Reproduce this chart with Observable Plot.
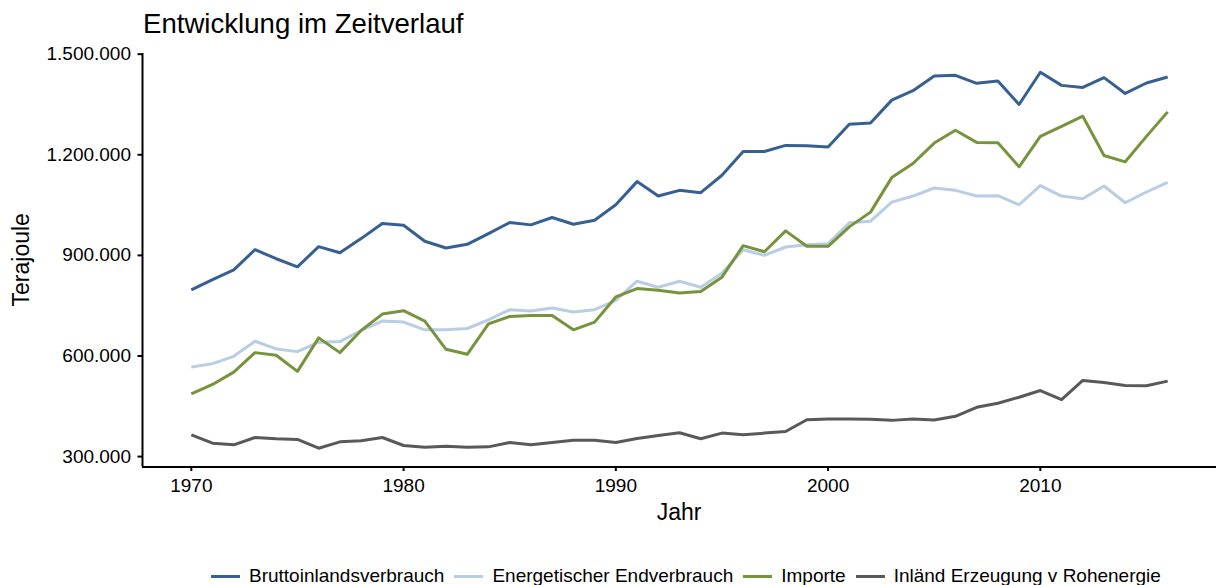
<!DOCTYPE html>
<html><head><meta charset="utf-8">
<script src="https://cdn.jsdelivr.net/npm/d3@7"></script>
<script src="https://cdn.jsdelivr.net/npm/@observablehq/plot@0.6"></script>
<style>
body{margin:0;background:#fff;overflow:hidden;font-family:"Liberation Sans",Arial,Helvetica,sans-serif;color:#000;}
#wrap{position:relative;width:1216px;height:585px;overflow:hidden;}
#chart{position:absolute;left:0;top:0;}
#title{position:absolute;left:143px;top:10px;font-size:27.6px;line-height:27.5px;white-space:nowrap;}
#legend{position:absolute;left:211px;top:567px;height:18px;display:flex;align-items:center;font-size:19px;line-height:18px;white-space:nowrap;}
.item{display:flex;align-items:center;margin-right:10px;}
.sw{width:29px;height:3px;margin-right:9px;}
</style></head><body>
<div id="wrap"><div id="chart"></div><div id="title">Entwicklung im Zeitverlauf</div><div id="legend"></div></div>
<script>
const years = [1970,1971,1972,1973,1974,1975,1976,1977,1978,1979,1980,1981,1982,1983,1984,1985,1986,1987,1988,1989,1990,1991,1992,1993,1994,1995,1996,1997,1998,1999,2000,2001,2002,2003,2004,2005,2006,2007,2008,2009,2010,2011,2012,2013,2014,2015,2016];
const seriesNames = ["Bruttoinlandsverbrauch","Energetischer Endverbrauch","Importe","Inländ Erzeugung v Rohenergie"];
const seriesColors = ["#376092","#B9CDE5","#77933C","#595959"];
const brutto = [797000,828000,857000,917000,890000,866000,926000,908000,950000,995000,990000,942000,922000,933000,965000,998000,991000,1013000,993000,1005000,1051000,1120000,1077000,1094000,1087000,1139000,1210000,1210000,1228000,1227000,1223000,1291000,1295000,1363000,1391000,1435000,1437000,1413000,1420000,1350000,1446000,1407000,1401000,1430000,1383000,1414000,1432000];
const endverbrauch = [567000,577000,599000,644000,621000,613000,641000,643000,676000,704000,701000,678000,678000,682000,708000,738000,734000,743000,731000,738000,766000,823000,805000,823000,805000,847000,917000,900000,925000,932000,935000,997000,1002000,1059000,1077000,1101000,1094000,1077000,1078000,1051000,1108000,1077000,1069000,1107000,1057000,1089000,1118000];
const importe = [487000,515000,552000,610000,602000,554000,654000,610000,676000,725000,735000,704000,620000,605000,696000,718000,721000,721000,678000,701000,776000,801000,796000,788000,792000,835000,929000,911000,973000,927000,927000,985000,1029000,1132000,1174000,1235000,1273000,1237000,1236000,1164000,1255000,1285000,1315000,1198000,1179000,1255000,1328000];
const inland = [365000,340000,335000,357000,353000,351000,325000,344000,347000,357000,333000,328000,331000,328000,329000,342000,335000,342000,349000,349000,342000,354000,363000,371000,353000,370000,365000,370000,375000,410000,412000,412000,411000,408000,412000,409000,420000,447000,459000,477000,497000,470000,527000,521000,512000,511000,525000];
const seriesValues = [brutto, endverbrauch, importe, inland];
const xTicks = [1970,1980,1990,2000,2010];
const yTicks = [300000,600000,900000,1200000,1500000];
const xTitle = "Jahr", yTitle = "Terajoule";

const data = [];
seriesNames.forEach((name,i)=>years.forEach((yr,j)=>data.push({Jahr:yr, Wert:seriesValues[i][j], Serie:name})));
const [vmin,vmax] = d3.extent(data, d=>d.Wert);
const vpad = (vmax-vmin)*0.05;
const [ymn,ymx] = d3.extent(years);
const xpad = (ymx-ymn)*0.05;
const fmt = d3.formatLocale({decimal:",",thousands:".",grouping:[3],currency:["","€"]}).format(",d");
const FONT = '"Liberation Sans",Arial,Helvetica,sans-serif';
const W = 1216, H = 540;
const plot = Plot.plot({
  width:W, height:H, marginLeft:142, marginRight:0, marginTop:53, marginBottom:73.5,
  style:{fontFamily:FONT, fontSize:"19px", color:"#000", background:"transparent", overflow:"visible"},
  x:{domain:[ymn-xpad, ymx+xpad]},
  y:{domain:[vmin-vpad, vmax+vpad]},
  color:{domain:seriesNames, range:seriesColors},
  marks:[
    Plot.axisX(xTicks, {tickSize:4.5, tickPadding:7, tickFormat:d=>String(d), label:null, strokeWidth:2, fontSize:19}),
    Plot.axisY(yTicks, {tickSize:4.5, tickPadding:7, tickFormat:fmt, label:null, strokeWidth:2, fontSize:19}),
    Plot.ruleX([ymn-xpad], {stroke:"#000", strokeWidth:2}),
    Plot.ruleY([vmin-vpad], {stroke:"#000", strokeWidth:2}),
    Plot.line(data, {x:"Jahr", y:"Wert", z:"Serie", stroke:"Serie", strokeWidth:3, strokeLinejoin:"round", strokeLinecap:"butt"})
  ]
});
document.getElementById("chart").appendChild(plot);
const svg = d3.select(plot);
const xr = plot.scale("x").range, yr = plot.scale("y").range;
svg.append("text").attr("x",(xr[0]+xr[1])/2).attr("y",520).attr("text-anchor","middle")
  .attr("font-size","23px").attr("font-family",FONT).attr("fill","#000").text(xTitle);
svg.append("text").attr("transform",`translate(29,${(yr[0]+yr[1])/2}) rotate(-90)`).attr("text-anchor","middle")
  .attr("font-size","23px").attr("font-family",FONT).attr("fill","#000").text(yTitle);

const leg = d3.select("#legend");
seriesNames.forEach((n,i)=>{
  const it = leg.append("div").attr("class","item");
  it.append("div").attr("class","sw").style("background",seriesColors[i]);
  it.append("span").text(n);
});
</script>
</body></html>
